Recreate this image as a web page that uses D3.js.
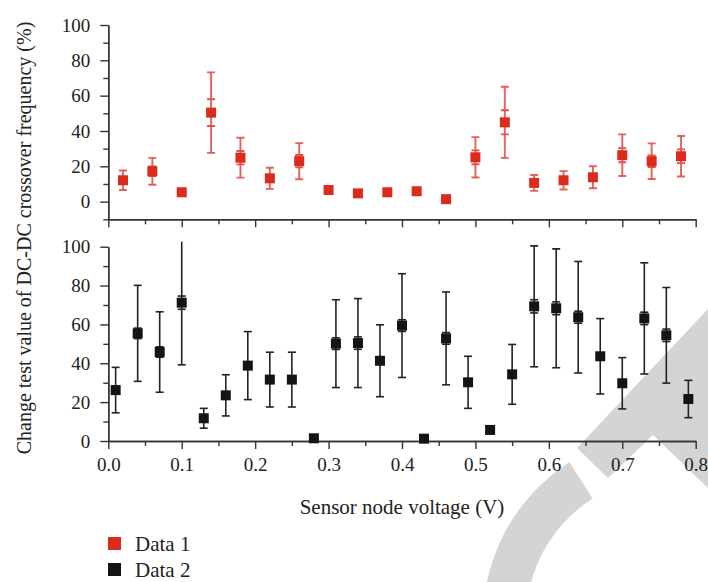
<!DOCTYPE html>
<html>
<head>
<meta charset="utf-8">
<script src="https://cdn.jsdelivr.net/npm/d3@7"></script>
<style>
  body { margin: 0; background: #fff; }
  svg { display: block; font-family: "Liberation Serif", "DejaVu Serif", serif; }
  svg .tick text { font-family: "Liberation Serif", "DejaVu Serif", serif !important; font-size: 19px !important; }
</style>
</head>
<body>
<div id="chart"></div>
<script>
// Data 1 (top panel)
const x1 = [0.02, 0.06, 0.10, 0.14, 0.18, 0.22, 0.26, 0.30, 0.34, 0.38,
            0.42, 0.46, 0.50, 0.54, 0.58, 0.62, 0.66, 0.70, 0.74, 0.78];
const y1 = [12.1, 17.2, 5.3, 50.4, 24.9, 13.2, 22.9, 6.6, 4.7, 5.3,
            5.9, 1.4, 25.1, 44.9, 10.6, 12.1, 13.8, 26.3, 22.9, 25.7];
const err1 = [5.5, 7.6, 0, 22.8, 11.3, 6.0, 10.2, 0, 0, 0,
              0, 0, 11.4, 20.1, 4.5, 5.2, 6.2, 11.8, 10.1, 11.5];
const se1 = [0, 2.7, 0, 7.6, 3.8, 0, 3.5, 0, 0, 0,
             0, 0, 3.9, 6.8, 0, 0, 0, 4.0, 3.3, 3.9];

// Data 2 (bottom panel)
const x2 = [0.01, 0.04, 0.07, 0.10, 0.13, 0.16, 0.19, 0.22, 0.25, 0.28,
            0.31, 0.34, 0.37, 0.40, 0.43, 0.46, 0.49, 0.52, 0.55, 0.58,
            0.61, 0.64, 0.67, 0.70, 0.73, 0.76, 0.79];
const y2 = [26.2, 55.4, 45.8, 71.2, 11.7, 23.5, 38.8, 31.6, 31.6, 1.4,
            50.1, 50.4, 41.3, 59.4, 1.2, 52.8, 30.2, 5.7, 34.3, 69.3,
            68.3, 63.7, 43.6, 29.7, 63.1, 54.4, 21.6];
const err2 = [11.7, 24.7, 20.7, 32, 5.1, 10.6, 17.5, 14.1, 14.1, 0,
              22.6, 22.9, 18.5, 26.7, 0, 23.9, 13.4, 0, 15.4, 31.1,
              30.6, 28.7, 19.4, 13.2, 28.6, 24.6, 9.6];
const se2 = [0, 2.7, 2.7, 3.4, 0, 0, 0, 0, 0, 0,
             3.0, 3.2, 0, 3.0, 0, 3.0, 0, 0, 0, 3.4,
             3.3, 3.1, 0, 0, 3.2, 3.2, 0];

const xMajor = [0, 0.1, 0.2, 0.3, 0.4, 0.5, 0.6, 0.7, 0.8];
const xMinor = [0.05, 0.15, 0.25, 0.35, 0.45, 0.55, 0.65, 0.75];
const yMajor = [0, 20, 40, 60, 80, 100];
const yMinorTop = [-10, 10, 30, 50, 70, 90];
const yMinorBot = [10, 30, 50, 70, 90];

const seriesNames = ["Data 1", "Data 2"];
const seriesColors = ["#dc2a1c", "#141414"];
const errColors = ["#e3504a", "#222"];

const W = 708, H = 582;
const svg = d3.select("#chart").append("svg")
    .attr("width", W)
    .attr("height", H);

// watermark in the background
const wm = svg.append("g").attr("fill", "#d4d4d4");
wm.append("path")
    .attr("d", "M577,448 L708,309 L708,488 L653,435 L608,478 Z");
wm.append("path")
    .attr("transform", "translate(670,620)")
    .attr("d", d3.arc()({ innerRadius: 144, outerRadius: 187,
        startAngle: -150 * Math.PI / 180, endAngle: -32.5 * Math.PI / 180 }));

const x = d3.scaleLinear().domain([0, 0.8]).range([108.3, 695.7]);
const yTop = d3.scaleLinear().domain([-10, 100]).range([219.3, 25]);
const yBot = d3.scaleLinear().domain([0, 100]).range([441, 246.7]);

function styleAxis(g) {
    g.attr("font-family", null).attr("font-size", null);
    g.select(".domain").attr("stroke", "#333").attr("stroke-width", 1.4);
    g.selectAll(".tick line").attr("stroke", "#333").attr("stroke-width", 1.4);
    g.selectAll(".tick text").attr("fill", "#222");
}

function drawPanel(y, yMinor, xs, ys, errs, ses, k, showLabels, clipId) {
    const yBase = y.range()[0];

    // minor ticks
    svg.append("g")
        .attr("transform", `translate(${x(0)},0)`)
        .call(d3.axisLeft(y).tickValues(yMinor).tickSize(5).tickSizeOuter(0).tickFormat(""))
        .call(styleAxis);
    svg.append("g")
        .attr("transform", `translate(0,${yBase})`)
        .call(d3.axisBottom(x).tickValues(xMinor).tickSize(5).tickSizeOuter(0).tickFormat(""))
        .call(styleAxis);

    // major ticks
    svg.append("g")
        .attr("transform", `translate(${x(0)},0)`)
        .call(d3.axisLeft(y).tickValues(yMajor).tickSize(8).tickPadding(10).tickSizeOuter(0))
        .call(styleAxis);
    svg.append("g")
        .attr("transform", `translate(0,${yBase})`)
        .call(d3.axisBottom(x).tickValues(xMajor).tickSize(8).tickPadding(9).tickSizeOuter(0)
            .tickFormat(showLabels ? d3.format(".1f") : ""))
        .call(styleAxis);

    svg.append("clipPath").attr("id", clipId)
        .append("rect")
        .attr("x", 0).attr("width", W)
        .attr("y", y(102.6)).attr("height", yBase - y(102.6) + 10);

    const data = xs.map((v, i) => ({ x: v, y: ys[i], e: errs[i], s: ses[i] }));
    const g = svg.append("g").attr("clip-path", `url(#${clipId})`);
    const cap = 4;

    const eb = g.selectAll(".eb").data(data.filter(d => d.e > 0)).enter().append("g")
        .attr("stroke", errColors[k])
        .attr("stroke-width", k === 0 ? 1.9 : 1.6)
        .attr("stroke-opacity", k === 0 ? 0.9 : 1);
    eb.append("line")
        .attr("x1", d => x(d.x)).attr("x2", d => x(d.x))
        .attr("y1", d => y(d.y - d.e)).attr("y2", d => y(d.y + d.e));
    [-1, 1].forEach(sgn => {
        eb.append("line")
            .attr("x1", d => x(d.x) - cap).attr("x2", d => x(d.x) + cap)
            .attr("y1", d => y(d.y + sgn * d.e)).attr("y2", d => y(d.y + sgn * d.e));
    });

    const sb = g.selectAll(".sb").data(data.filter(d => d.s > 0)).enter().append("g")
        .attr("stroke", errColors[k])
        .attr("stroke-width", k === 0 ? 1.9 : 1.6);
    [-1, 1].forEach(sgn => {
        sb.append("line")
            .attr("x1", d => x(d.x) - cap).attr("x2", d => x(d.x) + cap)
            .attr("y1", d => y(d.y + sgn * d.s)).attr("y2", d => y(d.y + sgn * d.s));
    });

    const m = 10;
    g.selectAll(".pt").data(data).enter().append("rect")
        .attr("x", d => x(d.x) - m / 2)
        .attr("y", d => y(d.y) - m / 2)
        .attr("width", m).attr("height", m)
        .attr("fill", seriesColors[k]);
}

drawPanel(yTop, yMinorTop, x1, y1, err1, se1, 0, false, "clipTop");
drawPanel(yBot, yMinorBot, x2, y2, err2, se2, 1, true, "clipBot");

// X-axis label
svg.append("text")
    .attr("x", (x(0) + x(0.8)) / 2)
    .attr("y", 514)
    .attr("text-anchor", "middle")
    .attr("fill", "#222")
    .style("font-size", "21px")
    .text("Sensor node voltage (V)");

// Y-axis label
svg.append("text")
    .attr("transform", "rotate(-90)")
    .attr("x", -238)
    .attr("y", 31)
    .attr("text-anchor", "middle")
    .attr("fill", "#222")
    .style("font-size", "20px")
    .text("Change test value of DC-DC crossover frequency (%)");

// legend
const leg = svg.append("g");
seriesNames.forEach((name, i) => {
    leg.append("rect")
        .attr("x", 108).attr("y", 537 + i * 26)
        .attr("width", 13).attr("height", 13)
        .attr("fill", seriesColors[i]);
    leg.append("text")
        .attr("x", 135).attr("y", 551 + i * 26)
        .attr("fill", "#222")
        .style("font-size", "21px")
        .text(name);
});
</script>
</body>
</html>
